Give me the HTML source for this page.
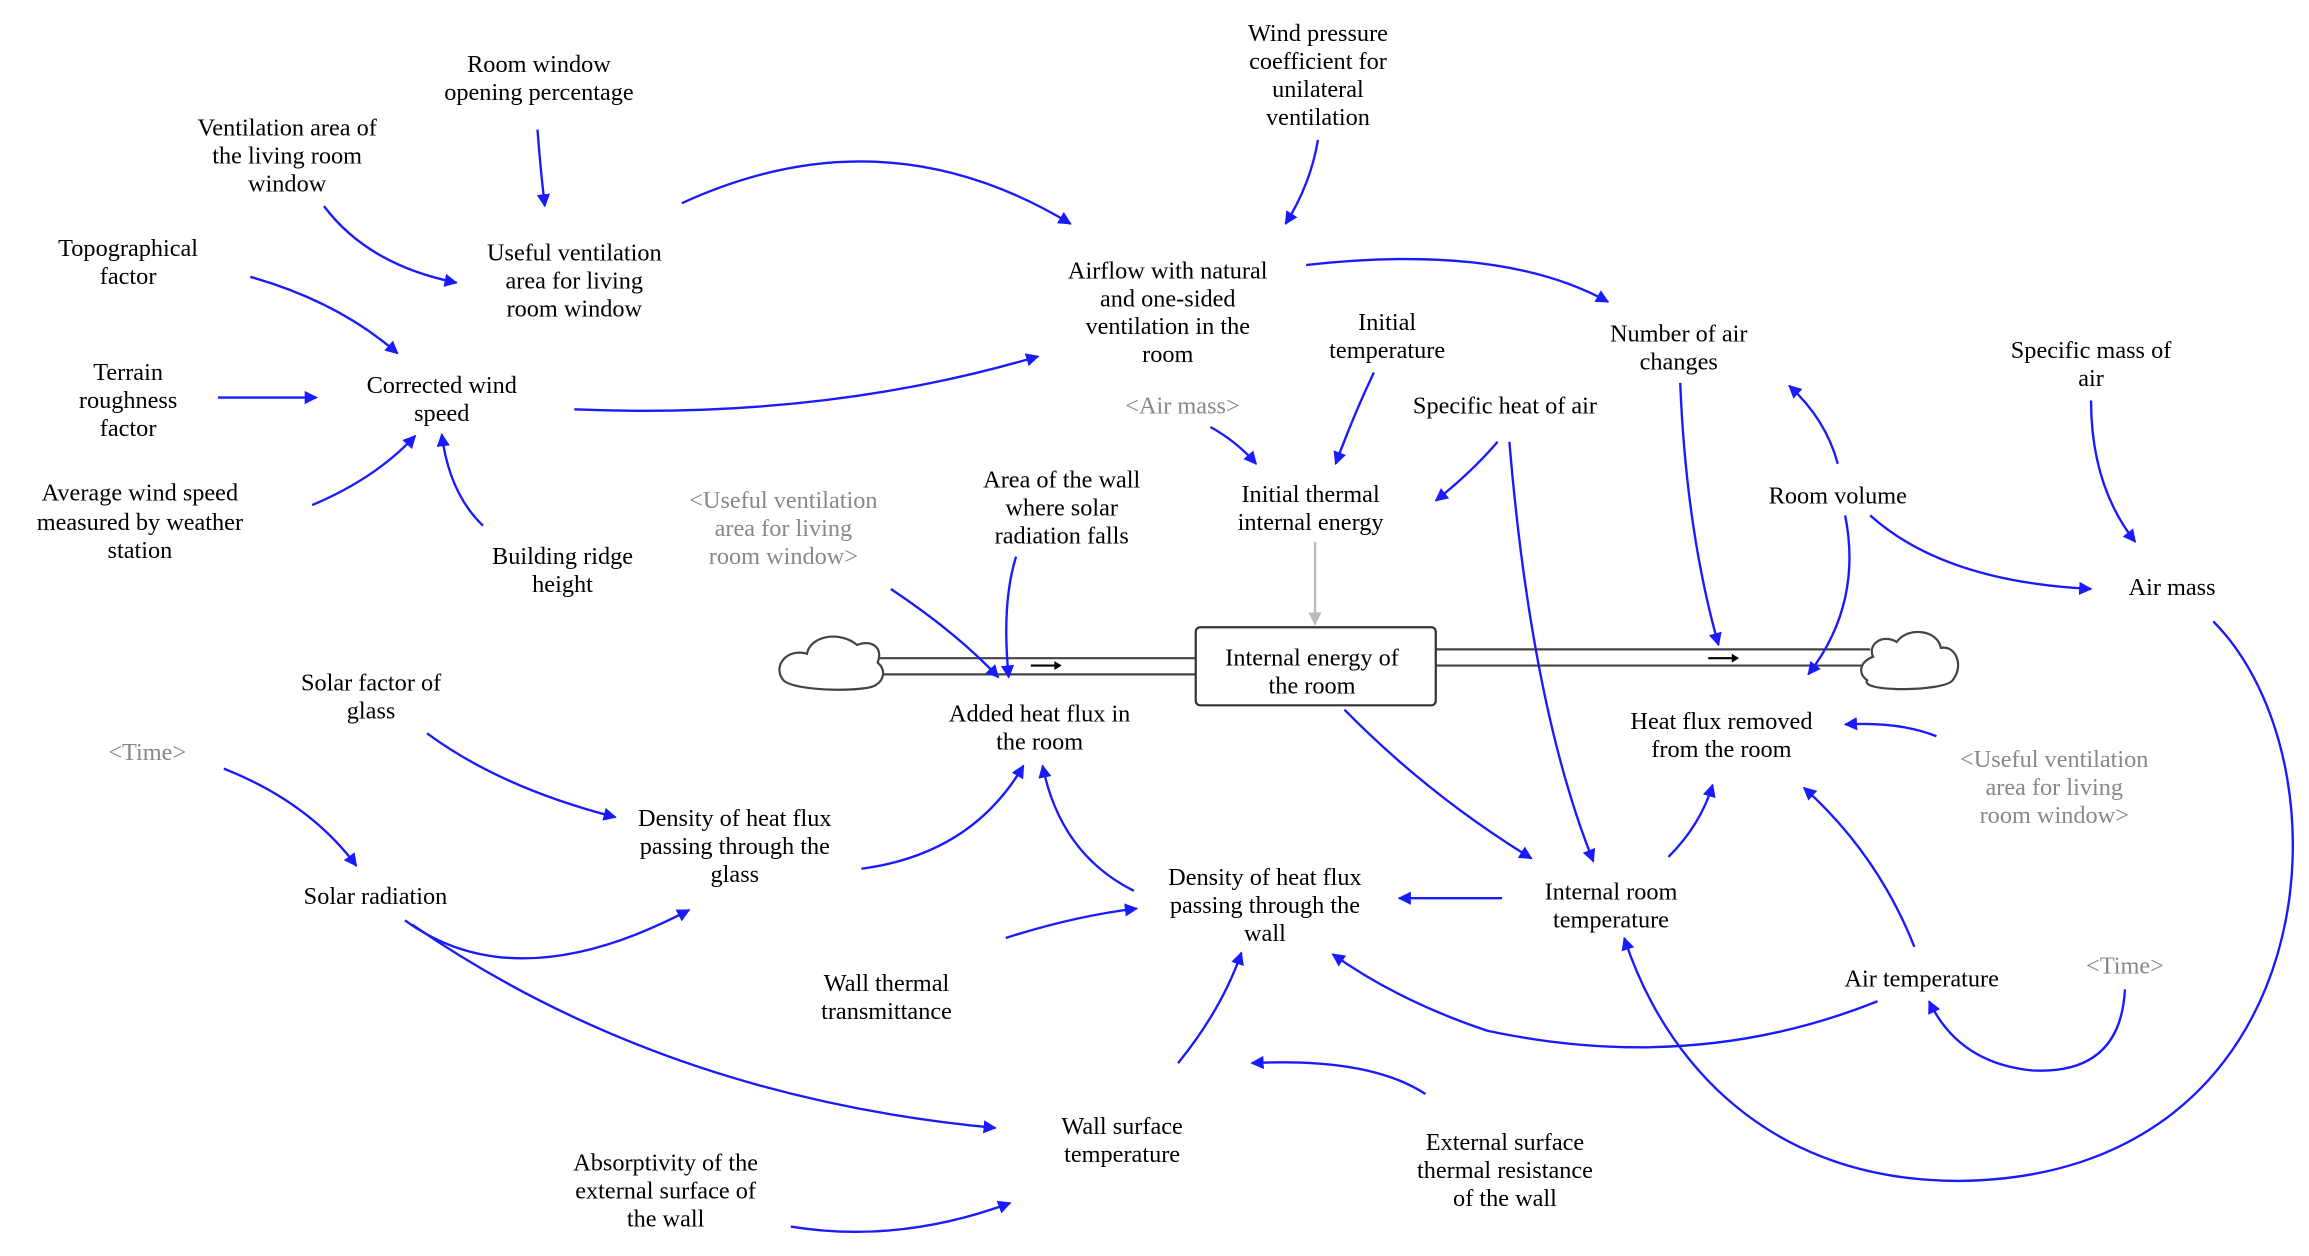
<!DOCTYPE html>
<html><head><meta charset="utf-8"><style>
html,body{margin:0;padding:0;background:#fff;}
svg{display:block;}
text{font-family:"Liberation Serif",serif;font-size:16.5px;fill:#000;text-anchor:middle;}
.g{fill:#888;}
.a{fill:none;stroke:#1a1aff;stroke-width:1.6;marker-end:url(#ah);}
</style></head><body>
<svg width="2309" height="1256" viewBox="0 0 1568 853" preserveAspectRatio="none">
<defs>
<marker id="ah" viewBox="0 0 10 10" refX="9" refY="5" markerWidth="9" markerHeight="9" markerUnits="userSpaceOnUse" orient="auto"><path d="M0,0 L10,5 L0,10 z" fill="#1a1aff"/></marker>
<marker id="gh" viewBox="0 0 10 10" refX="9" refY="5" markerWidth="9" markerHeight="9" markerUnits="userSpaceOnUse" orient="auto"><path d="M0,0 L10,5 L0,10 z" fill="#bbb"/></marker>
</defs>
<!-- pipes -->
<g fill="none" stroke="#444" stroke-width="1.5">
<line x1="590" y1="447" x2="812" y2="447"/><line x1="590" y1="458" x2="812" y2="458"/>
<line x1="975" y1="441" x2="1270" y2="441"/><line x1="975" y1="452" x2="1265" y2="452"/>
</g>
<line x1="700" y1="452" x2="718" y2="452" stroke="#000" stroke-width="1.5"/><path d="M716,449 L721,452 L716,455z"/>
<line x1="1160" y1="447" x2="1178" y2="447" stroke="#000" stroke-width="1.5"/><path d="M1176,444 L1181,447 L1176,450z"/>
<!-- clouds -->
<path d="M595,465 C590,470 540,470 532,462 C524,452 535,440 548,444 C550,432 570,428 582,438 C592,434 600,440 596,450 C602,455 600,462 595,465z" fill="#fff" stroke="#444" stroke-width="1.5"/>
<path d="M1268,462 C1262,470 1320,470 1326,462 C1334,452 1328,438 1318,440 C1316,428 1296,425 1288,436 C1278,430 1268,438 1272,446 C1262,450 1262,458 1268,462z" fill="#fff" stroke="#444" stroke-width="1.5"/>
<!-- stock -->
<rect x="812" y="426" width="163" height="53" rx="3" fill="#fff" stroke="#333" stroke-width="1.5"/>
<text x="891" y="452">Internal energy of</text><text x="891" y="471">the room</text>
<line x1="893" y1="368" x2="893" y2="424" stroke="#bbb" stroke-width="1.6" marker-end="url(#gh)"/>
<!-- arrows -->
<path class="a" d="M365,88 Q367,115 370,140"/>
<path class="a" d="M220,140 Q250,180 310,192"/>
<path class="a" d="M170,188 Q230,205 270,240"/>
<path class="a" d="M148,270 L215,270"/>
<path class="a" d="M212,343 Q255,325 282,296"/>
<path class="a" d="M328,357 Q305,335 300,295"/>
<path class="a" d="M390,278 Q560,285 705,242"/>
<path class="a" d="M463,138 Q600,75 727,152"/>
<path class="a" d="M895,95 Q890,125 873,152"/>
<path class="a" d="M887,180 Q1020,165 1092,205"/>
<path class="a" d="M933,253 Q920,280 907,315"/>
<path class="a" d="M822,290 Q840,300 853,315"/>
<path class="a" d="M1017,300 Q1000,320 975,340"/>
<path class="a" d="M1141,260 Q1145,360 1167,438"/>
<path class="a" d="M1248,315 Q1240,285 1215,262"/>
<path class="a" d="M1253,350 Q1265,410 1228,458"/>
<path class="a" d="M1270,350 Q1320,395 1420,400"/>
<path class="a" d="M1420,272 Q1420,330 1450,368"/>
<path class="a" d="M1503,422 C1600,520 1580,800 1330,802 C1200,802 1130,720 1103,637"/>
<path class="a" d="M605,400 Q650,430 678,460"/>
<path class="a" d="M690,378 Q680,410 685,460"/>
<path class="a" d="M585,590 Q660,580 695,520"/>
<path class="a" d="M770,605 Q720,580 708,520"/>
<path class="a" d="M290,498 Q340,535 418,555"/>
<path class="a" d="M152,522 Q210,545 242,588"/>
<path class="a" d="M275,625 Q350,680 468,618"/>
<path class="a" d="M280,628 Q450,745 676,766"/>
<path class="a" d="M683,637 Q730,622 772,617"/>
<path class="a" d="M1020,610 L950,610"/>
<path class="a" d="M913,482 Q970,540 1040,583"/>
<path class="a" d="M1025,300 Q1040,480 1082,585"/>
<path class="a" d="M1133,582 Q1155,560 1163,533"/>
<path class="a" d="M1300,643 Q1275,580 1225,535"/>
<path class="a" d="M1315,500 Q1290,490 1253,492"/>
<path class="a" d="M1275,680 Q1150,730 1010,700 Q950,680 905,648"/>
<path class="a" d="M1443,672 Q1440,730 1380,727 Q1330,722 1310,680"/>
<path class="a" d="M800,722 Q830,685 843,647"/>
<path class="a" d="M968,743 Q930,718 850,722"/>
<path class="a" d="M537,833 Q610,845 686,817"/>
<!-- labels -->
<text x="895" y="28">Wind pressure</text><text x="895" y="47">coefficient for</text><text x="895" y="66">unilateral</text><text x="895" y="85">ventilation</text>
<text x="366" y="49">Room window</text><text x="366" y="68">opening percentage</text>
<text x="195" y="92">Ventilation area of</text><text x="195" y="111">the living room</text><text x="195" y="130">window</text>
<text x="390" y="177">Useful ventilation</text><text x="390" y="196">area for living</text><text x="390" y="215">room window</text>
<text x="87" y="174">Topographical</text><text x="87" y="193">factor</text>
<text x="793" y="189">Airflow with natural</text><text x="793" y="208">and one-sided</text><text x="793" y="227">ventilation in the</text><text x="793" y="246">room</text>
<text x="942" y="224">Initial</text><text x="942" y="243">temperature</text>
<text x="1140" y="232">Number of air</text><text x="1140" y="251">changes</text>
<text x="1420" y="243">Specific mass of</text><text x="1420" y="262">air</text>
<text x="87" y="258">Terrain</text><text x="87" y="277">roughness</text><text x="87" y="296">factor</text>
<text x="300" y="267">Corrected wind</text><text x="300" y="286">speed</text>
<text class="g" x="803" y="281">&lt;Air mass&gt;</text>
<text x="1022" y="281">Specific heat of air</text>
<text x="95" y="340">Average wind speed</text><text x="95" y="360">measured by weather</text><text x="95" y="379">station</text>
<text x="721" y="331">Area of the wall</text><text x="721" y="350">where solar</text><text x="721" y="369">radiation falls</text>
<text x="890" y="341">Initial thermal</text><text x="890" y="360">internal energy</text>
<text x="1248" y="342">Room volume</text>
<text class="g" x="532" y="345">&lt;Useful ventilation</text><text class="g" x="532" y="364">area for living</text><text class="g" x="532" y="383">room window&gt;</text>
<text x="382" y="383">Building ridge</text><text x="382" y="402">height</text>
<text x="1475" y="404">Air mass</text>
<text x="252" y="469">Solar factor of</text><text x="252" y="488">glass</text>
<text x="706" y="490">Added heat flux in</text><text x="706" y="509">the room</text>
<text x="1169" y="495">Heat flux removed</text><text x="1169" y="514">from the room</text>
<text class="g" x="100" y="516">&lt;Time&gt;</text>
<text class="g" x="1395" y="521">&lt;Useful ventilation</text><text class="g" x="1395" y="540">area for living</text><text class="g" x="1395" y="559">room window&gt;</text>
<text x="499" y="561">Density of heat flux</text><text x="499" y="580">passing through the</text><text x="499" y="599">glass</text>
<text x="255" y="614">Solar radiation</text>
<text x="859" y="601">Density of heat flux</text><text x="859" y="620">passing through the</text><text x="859" y="639">wall</text>
<text x="1094" y="611">Internal room</text><text x="1094" y="630">temperature</text>
<text class="g" x="1443" y="661">&lt;Time&gt;</text>
<text x="1305" y="670">Air temperature</text>
<text x="602" y="673">Wall thermal</text><text x="602" y="692">transmittance</text>
<text x="762" y="770">Wall surface</text><text x="762" y="789">temperature</text>
<text x="1022" y="781">External surface</text><text x="1022" y="800">thermal resistance</text><text x="1022" y="819">of the wall</text>
<text x="452" y="795">Absorptivity of the</text><text x="452" y="814">external surface of</text><text x="452" y="833">the wall</text>
</svg>
</body></html>
